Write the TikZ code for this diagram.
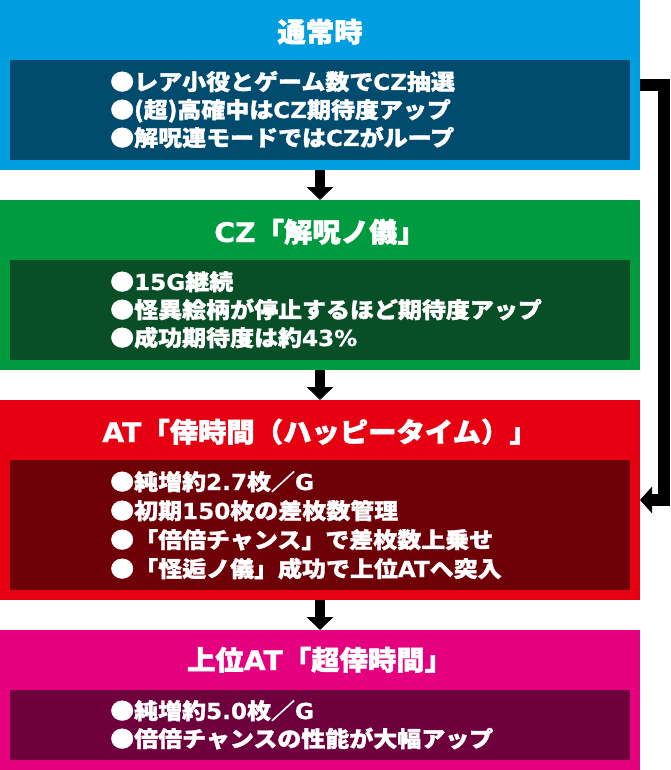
\documentclass[tikz,border=0pt]{standalone}
\usepackage{fontspec}
\setmainfont{Noto Sans CJK JP}
\newfontfamily\jpB{Noto Sans CJK JP}[FakeStretch=1.09,FakeBold=1.5]
\newfontfamily\ltB{DejaVu Sans}[FakeStretch=1.05,FakeBold=0.8]
\newfontfamily\jpT{Noto Sans CJK JP}[FakeStretch=1.05,FakeBold=2]
\newfontfamily\ltT{DejaVu Sans}[FakeStretch=1.05,FakeBold=1]
\usetikzlibrary{arrows.meta,calc}
\definecolor{cblue}{RGB}{0,158,224}
\definecolor{dblue}{RGB}{0,75,110}
\definecolor{cgreen}{RGB}{0,154,63}
\definecolor{dgreen}{RGB}{8,78,38}
\definecolor{cred}{RGB}{230,0,18}
\definecolor{dred}{RGB}{110,0,8}
\definecolor{cmag}{RGB}{228,0,127}
\definecolor{dmag}{RGB}{110,0,62}
\tikzset{
  box/.style={inner sep=0pt,outer sep=0pt,draw=none},
  ttl/.style={inner sep=0pt,text=white,text height=23.5pt,text depth=3.5pt,font={\let\lat\ltT\jpT\bfseries\fontsize{27}{27}\selectfont}},
  ln/.style={anchor=west,inner sep=0pt,text=white,font={\let\lat\ltB\jpB\bfseries\fontsize{22}{22}\selectfont},text height=19pt,text depth=3pt},
  conn/.style={line width=10pt,-{Triangle[length=13pt,width=26pt]}},
  loopconn/.style={line width=12pt,miter limit=10,-{Triangle[length=12pt,width=26pt]}}
}
\newcommand\lat{}
\begin{document}
\begin{tikzpicture}[x=1pt,y=-1pt]
\useasboundingbox (0,0) rectangle (670,770);
% outer boxes
\node[box,fill=cblue,minimum width=640pt,minimum height=170pt] (blue) at (320,85) {};
\node[box,fill=cgreen,minimum width=640pt,minimum height=170pt] (green) at (320,285) {};
\node[box,fill=cred,minimum width=640pt,minimum height=200pt] (red) at (320,500) {};
\node[box,fill=cmag,minimum width=640pt,minimum height=140pt] (mag) at (320,700) {};
% inner boxes
\node[box,fill=dblue,minimum width=620pt,minimum height=100pt] (blueIn) at (320,110) {};
\node[box,fill=dgreen,minimum width=620pt,minimum height=100pt] (greenIn) at (320,310) {};
\node[box,fill=dred,minimum width=620pt,minimum height=130pt] (redIn) at (320,525) {};
\node[box,fill=dmag,minimum width=620pt,minimum height=70pt] (magIn) at (320,725) {};
% titles
\node[ttl] (title1) at (320,32) {通常時};
\node[ttl] (title2) at (320,232) {{\lat CZ}「解呪ノ儀」};
\node[ttl] (title3) at (320,432) {{\lat AT}「倖時間（ハッピータイム）」};
\node[ttl] (title4) at (320,660) {上位{\lat AT}「超倖時間」};
% body lines
\node[ln] (b1) at (110,82) {●レア小役とゲーム数で{\lat CZ}抽選};
\node[ln] (b2) at (110,110) {●(超)高確中は{\lat CZ}期待度アップ};
\node[ln] (b3) at (110,138) {●解呪連モードでは{\lat CZ}がループ};
\node[ln] (g1) at (110,282) {●{\lat 15G}継続};
\node[ln] (g2) at (110,310) {●怪異絵柄が停止するほど期待度アップ};
\node[ln] (g3) at (110,338) {●成功期待度は約{\lat 43\%}};
\node[ln] (r1) at (110,482) {●純増約{\lat 2.7}枚／{\lat G}};
\node[ln] (r2) at (110,511) {●初期{\lat 150}枚の差枚数管理};
\node[ln] (r3) at (110,540) {●「倍倍チャンス」で差枚数上乗せ};
\node[ln] (r4) at (110,569) {●「怪逅ノ儀」成功で上位{\lat AT}へ突入};
\node[ln] (m1) at (110,711) {●純増約{\lat 5.0}枚／{\lat G}};
\node[ln] (m2) at (110,739) {●倍倍チャンスの性能が大幅アップ};
% connectors
\draw[conn] (blue.south) -- (green.north);
\draw[conn] (green.south) -- (red.north);
\draw[conn] (red.south) -- (mag.north);
\draw[loopconn] (blue.east) -- ++(24,0) |- (red.east);
\end{tikzpicture}
\end{document}
